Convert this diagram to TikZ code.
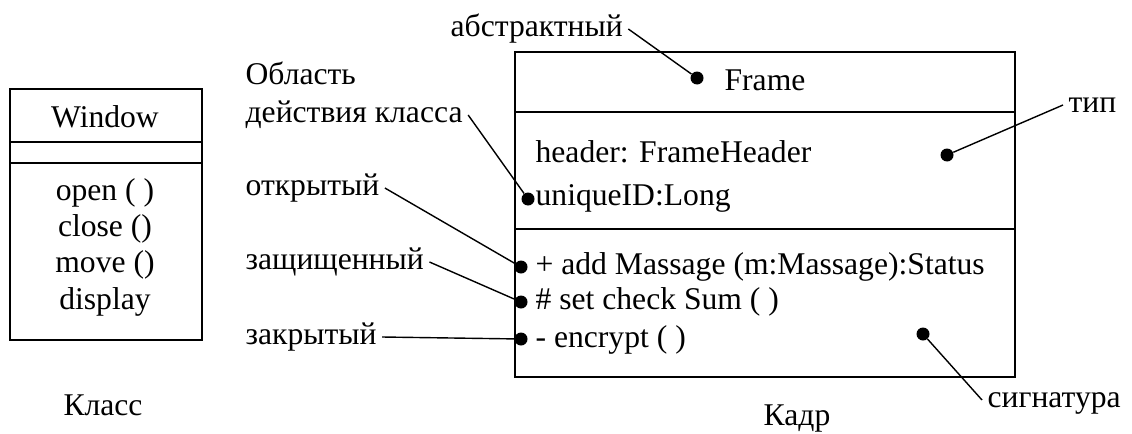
\documentclass[tikz,border=0pt]{standalone}
\usepackage{fontspec}
\setmainfont{Liberation Serif}
\tikzset{
  dot/.style={circle,fill,inner sep=0pt,minimum size=0.26cm},
  lbl/.style={inner sep=3pt,text height=0.9em,text depth=0.1em},
  lead/.style={line width=0.8pt},
  box/.style={line width=1.1pt}
}
\begin{document}
\begin{tikzpicture}[x=0.02cm,y=-0.02cm,font=\fontsize{18}{22}\selectfont]
      \useasboundingbox (0,0) rectangle (1132,433);
      % class Window
      \draw[box] (10,89) rectangle (202,340);
      \draw[box] (10,142) -- (202,142);
      \draw[box] (10,163) -- (202,163);
      \node[lbl] (win) at (105,120) {Window};
      \node[lbl] (wopen) at (105,193) {open ( )};
      \node[lbl] (wclose) at (105,229) {close ()};
      \node[lbl] (wmove) at (105,265) {move ()};
      \node[lbl] (wdisp) at (105,302) {display};
      \node[lbl] (klass) at (103,408) {Класс};
      % class Frame
      \draw[box] (515,52) rectangle (1015,377);
      \draw[box] (515,112) -- (1015,112);
      \draw[box] (515,229) -- (1015,229);
      \node[lbl] (frame) at (765,83) {Frame};
      \node[lbl,anchor=west] (hdr) at (530,155) {header: FrameHeader};
      \node[lbl,anchor=west] (uid) at (530,198) {uniqueID:Long};
      \node[lbl,anchor=west] (madd) at (530,267) {+ add Massage (m:Massage):Status};
      \node[lbl,anchor=west] (mset) at (530,302) {\# set check Sum ( )};
      \node[lbl,anchor=west] (menc) at (530,340) {- encrypt ( )};
      \node[lbl] (kadr) at (797,418) {Кадр};
      % dots
      \node[dot] (dabs) at (697,78) {};
      \node[dot] (dscope) at (528,199) {};
      \node[dot] (dtype) at (947,155) {};
      \node[dot] (dpub) at (521,267) {};
      \node[dot] (dprot) at (521,302) {};
      \node[dot] (dpriv) at (521,339) {};
      \node[dot] (dsig) at (923,334) {};
      % labels
      \node[lbl,anchor=west] (labs) at (445,29) {абстрактный};
      \node[lbl,anchor=west] (lobl) at (240,77) {Область};
      \node[lbl,anchor=west] (lscope) at (240,115) {действия класса};
      \node[lbl,anchor=west] (lpub) at (240,188) {открытый};
      \node[lbl,anchor=west] (lprot) at (240,262) {защищенный};
      \node[lbl,anchor=west] (lpriv) at (240,337) {закрытый};
      \node[lbl,anchor=west] (ltype) at (1063,105) {тип};
      \node[lbl,anchor=west] (lsig) at (982,400) {сигнатура};
      % leaders
      \draw[lead] (labs.east) -- (dabs);
      \draw[lead] (lscope.east) -- (dscope);
      \draw[lead] (lpub.east) -- (dpub);
      \draw[lead] (lprot.east) -- (dprot);
      \draw[lead] (lpriv.east) -- (dpriv);
      \draw[lead] (dtype) -- (ltype.west);
      \draw[lead] (dsig) -- (lsig.west);
\end{tikzpicture}
\end{document}
